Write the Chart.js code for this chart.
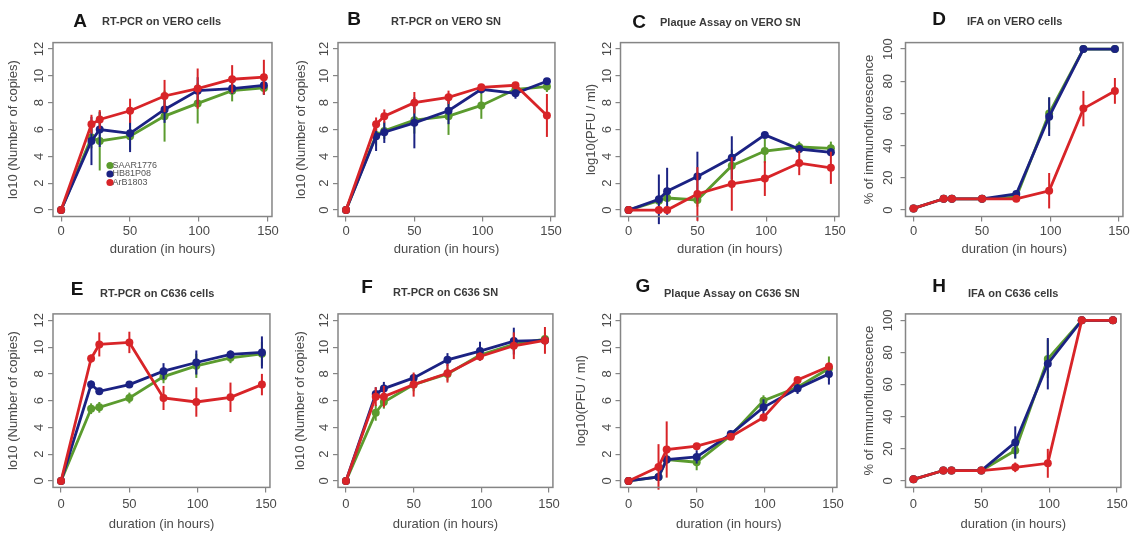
<!DOCTYPE html>
<html>
<head>
<meta charset="utf-8">
<script src="https://cdn.jsdelivr.net/npm/chart.js@4.4.1/dist/chart.umd.min.js"></script>
<style>
  html, body { margin: 0; padding: 0; background: #fff; }
  #wrap { position: relative; width: 1134px; height: 534px; overflow: hidden; }
  canvas { position: absolute; }
</style>
</head>
<body>
<div id="wrap"></div>
<script>
// sampling times and strains
const hours = [0, 22, 28, 50, 75, 99, 124, 147];
const strains = ['SAAR1776', 'HB81P08', 'ArB1803'];
const strainColors = ['#5b9b2e', '#1b2283', '#d82428'];
const xTicks = [0, 50, 100, 150];
const logTicks = [0, 2, 4, 6, 8, 10, 12];
const pctTicks = [0, 20, 40, 60, 80, 100];

// each panel: rows are SAAR1776, HB81P08, ArB1803
// A - RT-PCR on VERO cells
const veroCellsPcr = [
  [0, 5.4, 5.15, 5.5, 7.0, 7.95, 8.9, 9.1],
  [0, 5.15, 6.0, 5.72, 7.5, 8.9, 9.05, 9.3],
  [0, 6.4, 6.75, 7.4, 8.5, 9.05, 9.75, 9.9]
];
const veroCellsPcrErr = [
  [0, 0.8, 2.2, 1.0, 1.9, 1.5, 0.8, 0.5],
  [0, 1.8, 1.3, 1.4, 1.0, 1.0, 0.4, 0.7],
  [0, 0.7, 0.7, 0.9, 1.2, 1.5, 1.05, 1.3]
];
// B - RT-PCR on VERO SN
const veroSnPcr = [
  [0, 5.6, 5.9, 6.7, 7.0, 7.8, 9.0, 9.2],
  [0, 5.5, 5.8, 6.5, 7.4, 9.0, 8.7, 9.6],
  [0, 6.4, 7.0, 8.0, 8.4, 9.15, 9.3, 7.05]
];
const veroSnPcrErr = [
  [0, 0.8, 0.6, 1.0, 1.4, 1.0, 0.3, 0.4],
  [0, 1.1, 0.8, 1.9, 1.0, 0.3, 0.4, 0.2],
  [0, 0.5, 0.5, 0.8, 0.5, 0.2, 0.2, 1.6]
];
// C - Plaque Assay on VERO SN
const veroSnPfu = [
  [0, 0.7, 0.9, 0.75, 3.3, 4.4, 4.7, 4.6],
  [0, 0.8, 1.4, 2.5, 3.9, 5.6, 4.55, 4.3],
  [0, 0, 0, 1.2, 1.95, 2.35, 3.5, 3.15]
];
const veroSnPfuErr = [
  [0, 0.3, 0.3, 0.5, 1.2, 0.9, 0.4, 0.5],
  [0, 1.85, 1.75, 1.85, 1.6, 0.1, 0.3, 0.3],
  [0, 0, 0, 2.0, 2.0, 1.3, 0.9, 1.2]
];
// D - IFA on VERO cells
const veroCellsIfa = [
  [1, 7, 7, 7, 8, 60, 100, 100],
  [1, 7, 7, 7, 10, 58, 100, 100],
  [1, 7, 7, 7, 7, 12, 63, 74]
];
const veroCellsIfaErr = [
  [0, 0, 0, 0, 1, 10, 0, 0],
  [0, 0, 0, 0, 2, 12, 0, 0],
  [0, 0, 0, 0, 1, 11, 11, 8]
];
// E - RT-PCR on C636 cells
const c636CellsPcr = [
  [0, 5.4, 5.5, 6.2, 7.8, 8.6, 9.2, 9.5],
  [0, 7.2, 6.7, 7.2, 8.2, 8.85, 9.45, 9.6],
  [0, 9.15, 10.2, 10.35, 6.2, 5.9, 6.25, 7.2]
];
const c636CellsPcrErr = [
  [0, 0.4, 0.4, 0.4, 0.5, 0.9, 0.4, 0.9],
  [0, 0.3, 0.2, 0.2, 0.6, 0.9, 0.3, 1.2],
  [0, 0.3, 0.9, 0.8, 0.9, 1.1, 1.1, 0.8]
];
// F - RT-PCR on C636 SN
const c636SnPcr = [
  [0, 5.1, 5.9, 7.2, 8.0, 9.4, 10.2, 10.6],
  [0, 6.5, 6.9, 7.7, 9.05, 9.7, 10.45, 10.5],
  [0, 6.3, 6.3, 7.2, 8.05, 9.3, 10.1, 10.5]
];
const c636SnPcrErr = [
  [0, 0.6, 0.5, 0.5, 0.5, 0.4, 0.5, 0.5],
  [0, 0.5, 0.5, 0.3, 0.5, 0.7, 1.0, 0.3],
  [0, 0.7, 0.8, 0.9, 0.7, 0.3, 1.0, 1.0]
];
// G - Plaque Assay on C636 SN
const c636SnPfu = [
  [0, 0.3, 1.6, 1.4, 3.4, 6.0, 7.0, 8.4],
  [0, 0.3, 1.6, 1.8, 3.5, 5.5, 6.9, 8.0],
  [0, 1.05, 2.35, 2.6, 3.3, 4.75, 7.55, 8.55]
];
const c636SnPfuErr = [
  [0, 0.2, 0.3, 0.6, 0.2, 0.4, 0.4, 0.9],
  [0, 0.2, 0.3, 0.5, 0.2, 0.6, 0.4, 0.8],
  [0, 1.7, 2.1, 0.2, 0.2, 0.3, 0.2, 0.3]
];
// H - IFA on C636 cells
const c636CellsIfa = [
  [1, 6.5, 6.5, 6.5, 19, 76, 100, 100],
  [1, 6.5, 6.5, 6.5, 24, 73, 100, 100],
  [1, 6.5, 6.5, 6.5, 8.5, 11, 100, 100]
];
const c636CellsIfaErr = [
  [0, 0, 0, 0, 5, 12, 0, 0],
  [0, 0, 0, 0, 10, 16, 0, 0],
  [0, 0, 0, 0, 3, 9, 0, 0]
];

// page layout of the plot boxes
const colLeft = [53, 338, 620.5, 905.5];
const colRight = [273, 556, 840, 1124];
const rowTop = [0, 267];
const rowBoxTop = [42.6, 313.9];
const rowBoxBottom = [216.5, 487.4];

const fontFam = '"Liberation Sans", Arial, sans-serif';
const axisGrey = '#858585';
const textGrey = '#4a4a4a';
const copiesLabel = 'lo10 (Number of copies)';
const pfuLabel = 'log10(PFU / ml)';
const ifaLabel = '% of immunofluorescence';

const panels = [
  { letter: 'A', title: 'RT-PCR on VERO cells', yTitle: copiesLabel, means: veroCellsPcr, errs: veroCellsPcrErr, ticks: logTicks,
    col: 0, row: 0, letterAt: [80, 22], titleAt: [102, 22], yTitleX: 13, legend: true },
  { letter: 'B', title: 'RT-PCR on VERO SN', yTitle: copiesLabel, means: veroSnPcr, errs: veroSnPcrErr, ticks: logTicks,
    col: 1, row: 0, letterAt: [354, 20], titleAt: [391, 22], yTitleX: 301.5 },
  { letter: 'C', title: 'Plaque Assay on VERO SN', yTitle: pfuLabel, means: veroSnPfu, errs: veroSnPfuErr, ticks: logTicks,
    col: 2, row: 0, letterAt: [639, 23], titleAt: [660, 23], yTitleX: 591.5 },
  { letter: 'D', title: 'IFA on VERO cells', yTitle: ifaLabel, means: veroCellsIfa, errs: veroCellsIfaErr, ticks: pctTicks,
    col: 3, row: 0, letterAt: [939, 20], titleAt: [967, 22], yTitleX: 869 },
  { letter: 'E', title: 'RT-PCR on C636 cells', yTitle: copiesLabel, means: c636CellsPcr, errs: c636CellsPcrErr, ticks: logTicks,
    col: 0, row: 1, letterAt: [77, 290], titleAt: [100, 294], yTitleX: 13 },
  { letter: 'F', title: 'RT-PCR on C636 SN', yTitle: copiesLabel, means: c636SnPcr, errs: c636SnPcrErr, ticks: logTicks,
    col: 1, row: 1, letterAt: [367, 288], titleAt: [393, 293], yTitleX: 300.5 },
  { letter: 'G', title: 'Plaque Assay on C636 SN', yTitle: pfuLabel, means: c636SnPfu, errs: c636SnPfuErr, ticks: logTicks,
    col: 2, row: 1, letterAt: [643, 287], titleAt: [664, 294], yTitleX: 581 },
  { letter: 'H', title: 'IFA on C636 cells', yTitle: ifaLabel, means: c636CellsIfa, errs: c636CellsIfaErr, ticks: pctTicks,
    col: 3, row: 1, letterAt: [939, 287], titleAt: [968, 294], yTitleX: 869 }
];

// vertical error bars, drawn just under each series
const errorBars = {
  id: 'errorBars',
  beforeDatasetDraw(chart, args) {
    const ds = chart.data.datasets[args.index];
    const y = chart.scales.y;
    const ctx = chart.ctx;
    ctx.save();
    ctx.strokeStyle = ds.borderColor;
    ctx.lineWidth = 2;
    ds.data.forEach((pt, j) => {
      const e = ds.err[j];
      if (!e) return;
      const px = args.meta.data[j].x;
      ctx.beginPath();
      ctx.moveTo(px, y.getPixelForValue(pt.y - e));
      ctx.lineTo(px, y.getPixelForValue(pt.y + e));
      ctx.stroke();
    });
    ctx.restore();
  }
};

const wrap = document.getElementById('wrap');

function makePanel(p) {
  const boxL = colLeft[p.col], boxR = colRight[p.col];
  const top0 = rowTop[p.row];
  const boxT = rowBoxTop[p.row], boxB = rowBoxBottom[p.row];
  const cLeft = Math.round(boxL - 52);
  const cW = Math.round(boxR + 8 - cLeft);
  const cH = 267;

  const canvas = document.createElement('canvas');
  canvas.width = cW;
  canvas.height = cH;
  canvas.style.left = cLeft + 'px';
  canvas.style.top = top0 + 'px';
  wrap.appendChild(canvas);

  const xMax = hours[hours.length - 1];
  const yMax = p.ticks[p.ticks.length - 1];

  // R style frame, panel letter, heading and legend
  const frame = {
    id: 'frame',
    afterDraw(chart) {
      const ctx = chart.ctx;
      const a = chart.chartArea;
      ctx.save();
      ctx.strokeStyle = axisGrey;
      ctx.lineWidth = 1.5;
      ctx.strokeRect(a.left, a.top, a.right - a.left, a.bottom - a.top);

      ctx.fillStyle = '#151515';
      ctx.textAlign = 'center';
      ctx.textBaseline = 'middle';
      ctx.font = 'bold 19px ' + fontFam;
      ctx.fillText(p.letter, p.letterAt[0] - cLeft, p.letterAt[1] - top0);
      ctx.fillStyle = '#3a3a3a';
      ctx.textAlign = 'left';
      ctx.font = 'bold 11px ' + fontFam;
      ctx.fillText(p.title, p.titleAt[0] - cLeft, p.titleAt[1] - top0);

      if (p.legend) {
        ctx.font = '9px ' + fontFam;
        strains.forEach((s, i) => {
          const ly = 165.5 + i * 8.5 - top0;
          ctx.fillStyle = strainColors[i];
          ctx.beginPath();
          ctx.arc(110 - cLeft, ly, 3.6, 0, Math.PI * 2);
          ctx.fill();
          ctx.fillStyle = '#555';
          ctx.fillText(s, 112.5 - cLeft, ly);
        });
      }
      ctx.restore();
    }
  };

  new Chart(canvas, {
    type: 'line',
    data: {
      datasets: strains.map((s, i) => ({
        label: s,
        data: hours.map((h, j) => ({ x: h, y: p.means[i][j] })),
        err: p.errs[i],
        borderColor: strainColors[i],
        backgroundColor: strainColors[i],
        borderWidth: 2.8,
        pointRadius: 4,
        pointBorderWidth: 0,
        tension: 0,
        clip: false,
        order: 2 - i
      }))
    },
    options: {
      responsive: false,
      animation: false,
      devicePixelRatio: 1,
      layout: { padding: { left: 0, top: boxT - top0, right: cW - (boxR - cLeft), bottom: 0 } },
      plugins: { legend: { display: false }, tooltip: { enabled: false } },
      scales: {
        x: {
          type: 'linear',
          min: -xMax * 0.04,
          max: xMax * 1.04,
          afterBuildTicks: s => { s.ticks = xTicks.map(v => ({ value: v })); },
          afterFit: s => { s.height = cH - (boxB - top0); },
          grid: { drawOnChartArea: false, tickLength: 5, color: axisGrey, lineWidth: 1.2 },
          border: { display: false },
          ticks: { font: { size: 13, family: fontFam }, color: textGrey, padding: p.row ? 4 : 2, maxRotation: 0, autoSkip: false },
          title: { display: true, text: 'duration (in hours)', color: textGrey,
                   font: { size: 13, family: fontFam }, padding: { top: 0, bottom: p.row ? 2.2 : 10.2 } }
        },
        y: {
          min: -yMax * 0.04,
          max: yMax * 1.04,
          afterBuildTicks: s => { s.ticks = p.ticks.map(v => ({ value: v })); },
          afterFit: s => { s.width = boxL - cLeft; },
          grid: { drawOnChartArea: false, tickLength: 5, color: axisGrey, lineWidth: 1.2 },
          border: { display: false },
          ticks: { font: { size: 13, family: fontFam }, color: textGrey, padding: 1,
                   minRotation: 90, maxRotation: 90, crossAlign: 'center', autoSkip: false },
          title: { display: true, text: p.yTitle, color: textGrey,
                   font: { size: 13, family: fontFam }, padding: { top: p.yTitleX - cLeft - 7.8, bottom: 0 } }
        }
      }
    },
    plugins: [errorBars, frame]
  });
}

panels.forEach(makePanel);
</script>
</body>
</html>
